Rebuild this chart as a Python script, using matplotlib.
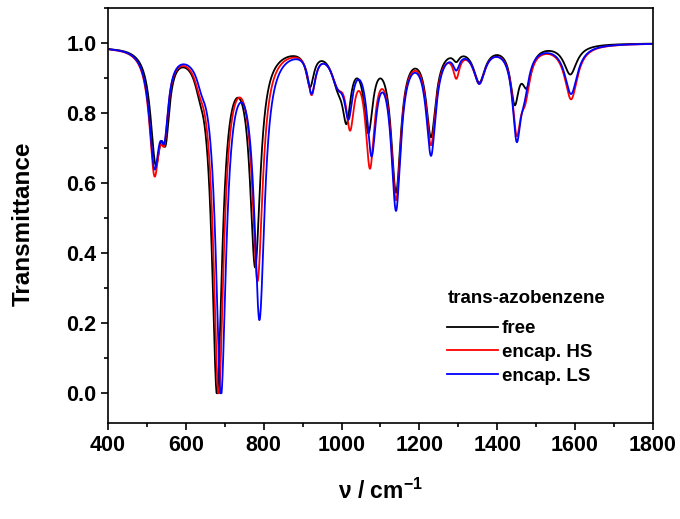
import numpy as np
import matplotlib
matplotlib.use('Agg')
import matplotlib.pyplot as plt
from matplotlib.ticker import MultipleLocator

plt.rcParams['font.family'] = ['Liberation Sans', 'DejaVu Sans']
plt.rcParams['font.weight'] = 'bold'
plt.rcParams['mathtext.fontset'] = 'custom'
plt.rcParams['mathtext.bf'] = 'Liberation Sans:bold'
plt.rcParams['mathtext.rm'] = 'Liberation Sans:bold'

# band positions (cm-1), depths and half widths
free_pos   = [400, 522, 548, 635, 680, 778, 919, 990, 1013, 1069, 1140, 1230, 1295, 1354, 1445, 1476, 1588]
free_depth = [0.006, 0.30, 0.19, 0.04, 0.98, 0.61, 0.10, 0.08, 0.17, 0.22, 0.405, 0.25, 0.025, 0.10, 0.15, 0.10, 0.085]
free_hw    = [60, 16, 12, 15, 16, 16, 12, 20, 13, 14, 15, 15, 10, 18, 13, 15, 20]

hs_pos   = [400, 519, 545, 635, 684, 784, 923, 990, 1022, 1073, 1140, 1230, 1295, 1354, 1450, 1472, 1590]
hs_depth = [0.006, 0.335, 0.18, 0.04, 0.98, 0.65, 0.12, 0.08, 0.19, 0.315, 0.42, 0.27, 0.07, 0.10, 0.22, 0.11, 0.155]
hs_hw    = [60, 16, 12, 15, 16, 16, 12, 20, 13, 14, 15, 15, 10, 18, 13, 15, 20]

ls_pos   = [400, 519, 545, 640, 690, 789, 923, 990, 1018, 1077, 1140, 1230, 1295, 1354, 1450, 1470, 1590]
ls_depth = [0.006, 0.315, 0.18, 0.04, 0.98, 0.76, 0.115, 0.08, 0.16, 0.28, 0.45, 0.30, 0.045, 0.10, 0.24, 0.09, 0.14]
ls_hw    = [60, 16, 12, 15, 16, 16, 12, 20, 13, 14, 15, 15, 10, 18, 13, 15, 20]

labels = ['free', 'encap. HS', 'encap. LS']
colors = ['black', 'red', 'blue']

nu = np.linspace(400, 1800, 2801)

def spectrum(pos, depth, hw):
    absb = np.zeros_like(nu)
    for c, d, g in zip(pos, depth, hw):
        absb += d * g**2 / ((nu - c)**2 + g**2)
    return np.clip(1 - absb, 0, None)

fig = plt.figure(figsize=(6.8, 5.19), dpi=100)
ax = fig.add_axes([0.159, 0.185, 0.801, 0.8])

series = [(free_pos, free_depth, free_hw), (hs_pos, hs_depth, hs_hw), (ls_pos, ls_depth, ls_hw)]
for (p, d, w), lab, col in zip(series, labels, colors):
    ax.plot(nu, spectrum(p, d, w), color=col, lw=1.3, label=lab)

ax.set_xlim(400, 1800)
ax.set_ylim(-0.085, 1.1)
ax.xaxis.set_major_locator(MultipleLocator(200))
ax.xaxis.set_minor_locator(MultipleLocator(100))
ax.yaxis.set_major_locator(MultipleLocator(0.2))
ax.yaxis.set_minor_locator(MultipleLocator(0.1))
ax.yaxis.set_major_formatter(plt.FormatStrFormatter('%.1f'))
ax.tick_params(which='both', direction='out', top=False, right=False, labelsize=15.5, width=1.2)
ax.tick_params(which='major', length=5)
ax.tick_params(which='minor', length=3)
for s in ax.spines.values():
    s.set_linewidth(1.2)

ax.set_ylabel('Transmittance', fontsize=17.5, fontweight='bold')
ax.yaxis.set_label_coords(-0.134, 0.48)
ax.set_xlabel(r'ν / cm$^{\mathbf{ -1}}$', fontsize=16.5, fontweight='bold')
ax.xaxis.set_label_coords(0.5, -0.135)

leg = ax.legend(title='trans-azobenzene', loc='upper left', frameon=False,
                fontsize=13.5, title_fontproperties={'weight': 'bold', 'size': 13.5},
                handlelength=2.7, handletextpad=0.2, labelspacing=0.35,
                borderpad=1.32, bbox_to_anchor=(0.56, 0.402))
leg._legend_box.align = 'left'
leg._legend_box.sep = 0.35 * 13.5 + 4.5   # a bit more room under the title

fig.savefig('out.png', dpi=100)
